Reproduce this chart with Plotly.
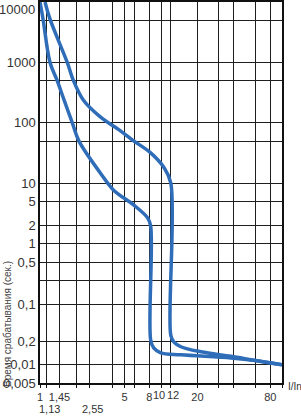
import math
import plotly.graph_objects as go

# Curve data (multiple of In, trip time in seconds)
lower_x = [1.0, 1.06, 1.21, 1.38, 1.58, 1.85, 2.10, 3.15, 4.04, 5.94, 7.75, 8.21, 8.21, 8.7, 9.94, 14.6, 37.9, 60, 100]
lower_y = [10000, 5200, 1000, 514, 240, 100, 50, 14.9, 7.8, 4.4, 2.69, 1.98, 0.026, 0.019, 0.0158, 0.0146, 0.013, 0.0118, 0.010]

upper_x = [1.10, 1.21, 1.68, 1.88, 2.28, 3.15, 4.62, 5.82, 8.21, 10.5, 12.04, 12.04, 12.75, 14.6, 21.4, 37.9, 60, 100]
upper_y = [10000, 5200, 1000, 514, 240, 126, 74, 52, 32, 18.7, 10.2, 0.031, 0.024, 0.0199, 0.0164, 0.0138, 0.0118, 0.010]

# Axis ticks
x_tickvals = [1, 1.13, 1.45, 2, 2.55, 4, 5, 6, 8, 10, 12, 20, 30, 40, 60, 80, 100]
x_ticktext = ["1", "", "1,45", "", "", "", "5", "", "8", "", "", "20", "", "", "", "80", ""]
x_tight_labels = {10: ("10", -2), 12: ("12", 2)}
x_second_row = {1.13: "1,13", 2.55: "2,55"}

y_tickvals = [10000, 5000, 1000, 500, 100, 50, 10, 5, 2, 1, 0.5, 0.25, 0.1, 0.024, 0.01, 0.005]
y_ticktext = ["", "", "1000", "", "100", "", "10", "5", "2", "1", "0,5", "", "0,1", "0,2", "0,01", "0,005"]
y_top_label = "10000"

BLUE = "#2f6db8"
FONT = "Liberation Sans"

fig = go.Figure()
for xs, ys in [(lower_x, lower_y), (upper_x, upper_y)]:
    fig.add_trace(go.Scatter(x=xs, y=ys, mode="lines",
                             line=dict(color=BLUE, width=3.5, shape="spline", smoothing=1.0),
                             hoverinfo="skip", showlegend=False))

fig.update_layout(
    width=301, height=416,
    margin=dict(l=40, r=19, t=2, b=33, autoexpand=False),
    paper_bgcolor="white", plot_bgcolor="white",
    font=dict(family=FONT, size=13, color="#333"),
    showlegend=False,
)
fig.update_xaxes(type="log", range=[0, 2], tickvals=x_tickvals, ticktext=x_ticktext,
                 tickangle=0, automargin=False,
                 showgrid=True, gridcolor="#1e1e1e", gridwidth=1.3,
                 showline=True, linecolor="#111", linewidth=1.5, mirror=True,
                 ticks="outside", ticklen=3, tickcolor="#111", tickwidth=1.3,
                 tickfont=dict(size=11, color="#333"), zeroline=False)
fig.update_yaxes(type="log", range=[-2.301, 4], tickvals=y_tickvals, ticktext=y_ticktext,
                 automargin=False,
                 showgrid=True, gridcolor="#1e1e1e", gridwidth=1.3,
                 showline=True, linecolor="#111", linewidth=1.5, mirror=True,
                 ticks="", tickfont=dict(size=13, color="#333"), zeroline=False)

for xv, (txt, dx) in x_tight_labels.items():
    fig.add_annotation(x=math.log10(xv), y=0, xref="x", yref="paper",
                       text=txt, showarrow=False, xanchor="center", yanchor="top",
                       yshift=-4, xshift=dx, font=dict(size=11, color="#333"))
for xv, txt in x_second_row.items():
    fig.add_annotation(x=math.log10(xv), y=0, xref="x", yref="paper",
                       text=txt, showarrow=False, xanchor="center", yanchor="top",
                       yshift=-18, xshift=3, font=dict(size=11, color="#333"))
fig.add_annotation(x=0, y=1, xref="paper", yref="paper", text=y_top_label,
                   showarrow=False, xanchor="right", yanchor="top", xshift=-3, yshift=2,
                   font=dict(size=13, color="#333"))
fig.add_annotation(x=1, y=0, xref="paper", yref="paper", text="I/In",
                   showarrow=False, xanchor="left", yanchor="middle", xshift=4, yshift=-3,
                   font=dict(size=10, color="#333"))
fig.add_annotation(x=-0.132, y=0.155, xref="paper", yref="paper",
                   text="Время срабатывания (сек.)", textangle=-90, showarrow=False,
                   xanchor="center", yanchor="middle",
                   font=dict(size=10, color="#444"))

fig.write_html("out.html")
